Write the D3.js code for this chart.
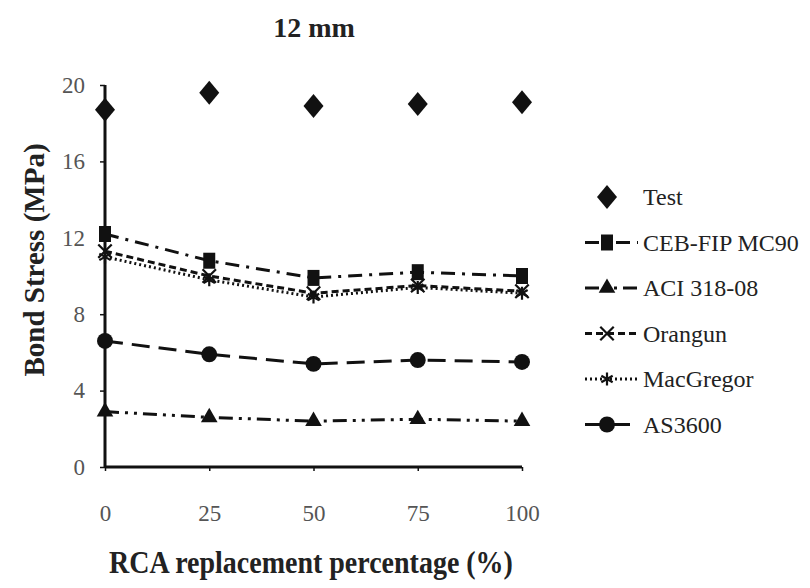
<!DOCTYPE html>
<html>
<head>
<meta charset="utf-8">
<script src="https://cdn.jsdelivr.net/npm/d3@7"></script>
<style>
  body { margin: 0; background: #fff; }
  svg text { font-family: "Liberation Serif", "Times New Roman", Times, Tinos, "DejaVu Serif", "Noto Serif", serif !important; }
</style>
</head>
<body>
<svg id="chart"></svg>
<script>
// RCA replacement levels
var rca = [0, 25, 50, 75, 100];

var test      = [18.7, 19.6, 18.9, 19.0, 19.1];
var cebFip    = [12.2, 10.8, 9.9, 10.2, 10.0];
var aci       = [2.9, 2.6, 2.4, 2.5, 2.4];
var orangun   = [11.3, 10.0, 9.1, 9.5, 9.2];
var macGregor = [11.0, 9.8, 8.9, 9.4, 9.1];
var as3600    = [6.6, 5.9, 5.4, 5.6, 5.5];

var yTicks = [0, 4, 8, 12, 16, 20];

var width = 810, height = 588;
var svg = d3.select('#chart').attr('width', width).attr('height', height);

var x = d3.scaleLinear().domain([0, 100]).range([105, 522]);
var y = d3.scaleLinear().domain([0, 20]).range([467, 85]);

var series = [
    {name: 'Test', values: test, dash: null, line: false, marker: 'diamond'},
    {name: 'CEB-FIP MC90', values: cebFip, dash: '14,7,3,7', line: true, marker: 'square'},
    {name: 'ACI 318-08', values: aci, dash: '14,6,3,6,3,6', line: true, marker: 'triangle'},
    {name: 'Orangun', values: orangun, dash: '7,4', line: true, marker: 'cross'},
    {name: 'MacGregor', values: macGregor, dash: '2,3', line: true, marker: 'star'},
    {name: 'AS3600', values: as3600, dash: '18,9', line: true, marker: 'circle'}
];

var symbols = {
    diamond: function() { return 'M0,-12L10,0L0,12L-10,0Z'; },
    square: function() { return 'M-6,-8H6V8H-6Z'; },
    triangle: d3.symbol().type(d3.symbolTriangle).size(120),
    circle: d3.symbol().type(d3.symbolCircle).size(200),
    cross: d3.symbol().type(d3.symbolX).size(120),
    star: d3.symbol().type(d3.symbolAsterisk).size(120)
};

function drawMarker(g, kind) {
    var p = g.append('path').attr('d', symbols[kind]());
    if (kind == 'cross' || kind == 'star') {
        p.attr('fill', 'none').attr('stroke', '#111').attr('stroke-width', 2.2);
    } else {
        p.attr('fill', '#111');
    }
}

// title
svg.append('text')
    .attr('x', 314).attr('y', 37)
    .attr('text-anchor', 'middle')
    .attr('font-weight', 'bold')
    .attr('font-size', 28)
    .attr('fill', '#222')
    .text('12 mm');

// axes
var yAxis = svg.append('g')
    .attr('transform', 'translate(105,0)')
    .call(d3.axisLeft(y).tickValues(yTicks).tickSize(5).tickPadding(15));
var xAxis = svg.append('g')
    .attr('transform', 'translate(0,467)')
    .call(d3.axisBottom(x).tickValues(rca).tickSize(4).tickPadding(34));

[yAxis, xAxis].forEach(function(a) {
    a.attr('font-family', null);
    a.select('.domain').attr('stroke', '#111').attr('stroke-width', 3);
    a.selectAll('.tick line').attr('stroke', '#111').attr('stroke-width', 1.5);
    a.selectAll('.tick text')
        .attr('font-size', 23)
        .attr('fill', '#555');
});
xAxis.select('.domain').attr('d', 'M105,0H522');
yAxis.select('.domain').attr('d', 'M0,467V85');

// axis labels
svg.append('text')
    .attr('transform', 'translate(311,573) scale(1,1.15)')
    .attr('text-anchor', 'middle')
    .attr('font-weight', 'bold')
    .attr('font-size', 28)
    .attr('fill', '#222')
    .text('RCA replacement percentage (%)');

svg.append('text')
    .attr('transform', 'translate(44,260) rotate(-90)')
    .attr('text-anchor', 'middle')
    .attr('font-weight', 'bold')
    .attr('font-size', 29)
    .attr('fill', '#222')
    .text('Bond Stress (MPa)');

// series
var line = d3.line()
    .x(function(d, i) { return x(rca[i]); })
    .y(function(d) { return y(d); });

series.forEach(function(s) {
    if (s.line) {
        svg.append('path')
            .datum(s.values)
            .attr('d', line)
            .attr('fill', 'none')
            .attr('stroke', '#111')
            .attr('stroke-width', 3)
            .attr('stroke-dasharray', s.dash);
    }
    s.values.forEach(function(v, i) {
        var g = svg.append('g').attr('transform', 'translate(' + x(rca[i]) + ',' + y(v) + ')');
        drawMarker(g, s.marker);
    });
});

// legend
var legend = svg.append('g');
series.forEach(function(s, i) {
    var ly = 197 + i * 45.5;
    var row = legend.append('g').attr('transform', 'translate(0,' + ly + ')');
    if (s.line) {
        row.append('line')
            .attr('x1', 585).attr('x2', 638)
            .attr('y1', 0).attr('y2', 0)
            .attr('stroke', '#111').attr('stroke-width', 3)
            .attr('stroke-dasharray', s.dash);
    }
    drawMarker(row.append('g').attr('transform', 'translate(607,0)'), s.marker);
    row.append('text')
        .attr('x', 643).attr('y', 8)
        .attr('font-size', 24)
        .attr('fill', '#222')
        .text(s.name);
});
</script>
</body>
</html>
